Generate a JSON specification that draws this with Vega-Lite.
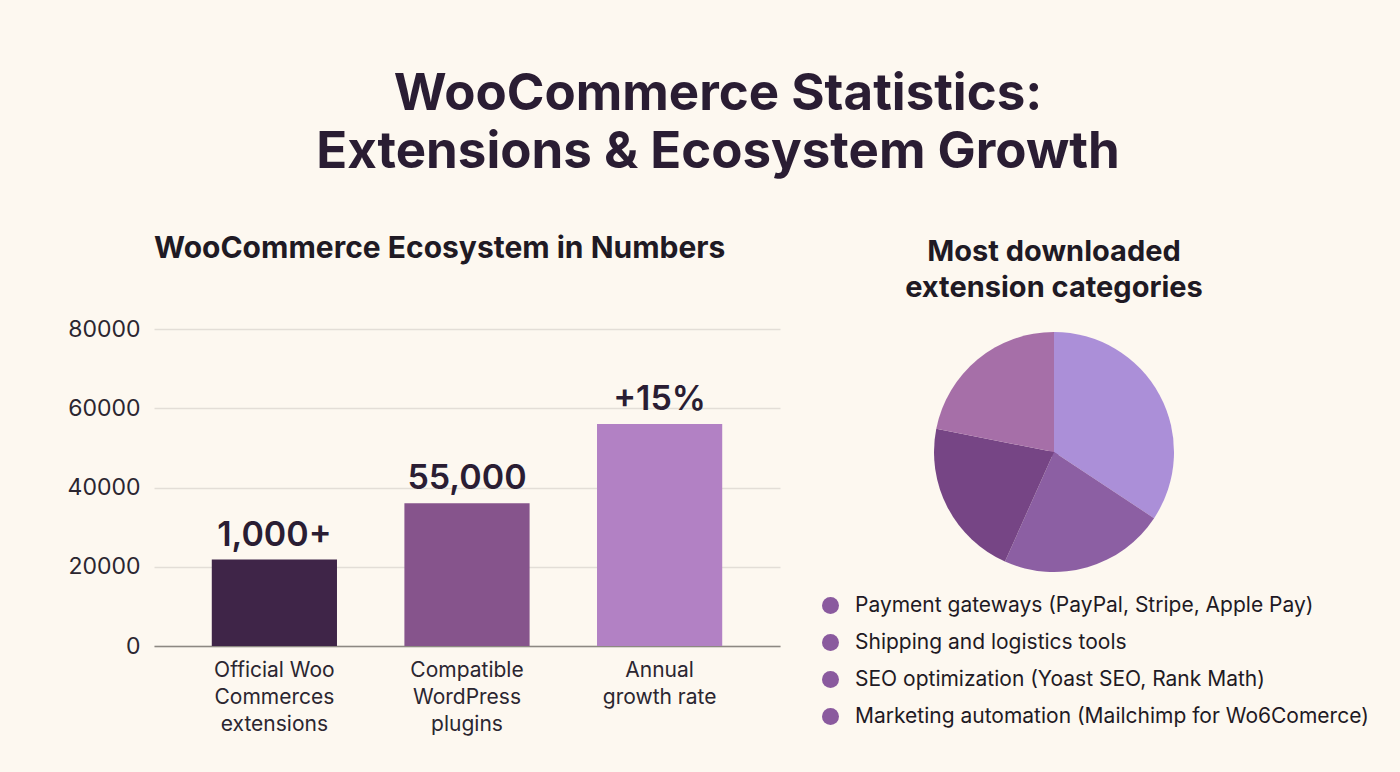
{
  "$schema": "https://vega.github.io/schema/vega-lite/v6.json",
  "background": "#fdf8f0",
  "padding": {"left": 67, "top": 69, "right": 33, "bottom": 40},
  "title": {
    "text": ["WooCommerce Statistics:", "Extensions & Ecosystem Growth"],
    "fontSize": 51,
    "fontWeight": 700,
    "lineHeight": 58,
    "color": "#2a1d33",
    "anchor": "middle",
    "offset": 55
  },
  "config": {
    "font": "Inter",
    "view": {"stroke": null},
    "title": {"font": "Inter"}
  },
  "resolve": {
    "scale": {"color": "independent", "shape": "independent"},
    "legend": {"color": "independent", "shape": "independent"}
  },
  "spacing": 40,
  "hconcat": [
    {
      "width": 626,
      "height": 317,
      "title": {
        "text": "WooCommerce Ecosystem in Numbers",
        "anchor": "start",
        "frame": "group",
        "fontSize": 30,
        "fontWeight": 700,
        "color": "#1f1a24",
        "offset": 54
      },
      "data": {
        "values": [
          {"cat": "Official Woo|Commerces|extensions", "value": 21800, "label": "1,000+"},
          {"cat": "Compatible|WordPress|plugins", "value": 36000, "label": "55,000"},
          {"cat": "Annual|growth rate", "value": 56000, "label": "+15%"}
        ]
      },
      "encoding": {
        "x": {
          "field": "cat",
          "type": "nominal",
          "sort": null,
          "scale": {"paddingInner": 0.35, "paddingOuter": 0.3},
          "axis": {
            "title": null,
            "labelAngle": 0,
            "labelExpr": "split(datum.label, '|')",
            "labelFontSize": 21,
            "labelLineHeight": 27,
            "labelColor": "#2b2630",
            "labelPadding": 13,
            "labelBaseline": "top",
            "ticks": false,
            "domain": true,
            "domainColor": "#8d8882",
            "domainWidth": 1.5,
            "grid": false
          }
        },
        "y": {
          "field": "value",
          "type": "quantitative",
          "scale": {"domain": [0, 80000]},
          "axis": {
            "title": null,
            "values": [0, 20000, 40000, 60000, 80000],
            "format": "d",
            "labelFontSize": 23,
            "labelColor": "#2b2630",
            "labelPadding": 14,
            "ticks": false,
            "domain": false,
            "gridColor": "#e3ded7",
            "gridWidth": 1.5
          }
        }
      },
      "layer": [
        {
          "mark": {"type": "bar"},
          "encoding": {
            "color": {
              "field": "cat",
              "type": "nominal",
              "sort": null,
              "scale": {"range": ["#3f2548", "#86548c", "#b281c4"]},
              "legend": null
            }
          }
        },
        {
          "mark": {"type": "text", "dy": -14, "baseline": "alphabetic", "fontSize": 34, "fontWeight": 600, "color": "#2a1d33"},
          "encoding": {"text": {"field": "label"}}
        }
      ]
    },
    {
      "width": 240,
      "height": 246,
      "title": {
        "text": ["Most downloaded", "extension categories"],
        "anchor": "middle",
        "fontSize": 29,
        "fontWeight": 700,
        "lineHeight": 36,
        "color": "#1f1a24",
        "offset": 26
      },
      "data": {
        "values": [
          {"category": "Payment gateways (PayPal, Stripe, Apple Pay)", "share": 34.3, "idx": 1},
          {"category": "Shipping and logistics tools", "share": 22.4, "idx": 2},
          {"category": "SEO optimization (Yoast SEO, Rank Math)", "share": 21.4, "idx": 3},
          {"category": "Marketing automation (Mailchimp for Wo6Comerce)", "share": 21.9, "idx": 4}
        ]
      },
      "layer": [
        {
          "mark": {"type": "point", "filled": true, "color": "#8a5a9e", "opacity": 1, "size": 100},
          "encoding": {
            "shape": {
              "field": "category",
              "type": "nominal",
              "sort": null,
              "scale": {"range": ["circle", "circle", "circle", "circle"]},
              "legend": {
                "title": null,
                "orient": "none",
                "legendX": -114,
                "legendY": 266,
                "direction": "vertical",
                "symbolSize": 289,
                "symbolFillColor": "#8a5a9e",
                "symbolStrokeWidth": 0,
                "symbolOpacity": 1,
                "labelFontSize": 21,
                "labelColor": "#1f1a24",
                "labelLimit": 600,
                "labelOffset": 14,
                "rowPadding": 15
              }
            }
          }
        },
        {
          "mark": {"type": "arc", "outerRadius": 120},
          "encoding": {
            "theta": {"field": "share", "type": "quantitative", "stack": true},
            "order": {"field": "idx", "type": "quantitative"},
            "color": {
              "field": "category",
              "type": "nominal",
              "sort": null,
              "scale": {"range": ["#ab8fd8", "#8c5fa3", "#764585", "#a66fa8"]},
              "legend": null
            }
          }
        }
      ]
    }
  ]
}
